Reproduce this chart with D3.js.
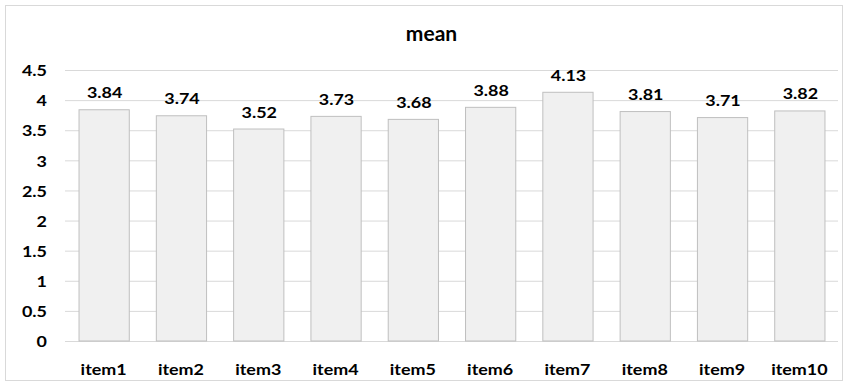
<!DOCTYPE html>
<html><head><meta charset="utf-8">
<script src="https://cdn.jsdelivr.net/npm/d3@7"></script>
<style>body{margin:0;background:#fff}svg{display:block}text{font-family:Lato,"Open Sans",sans-serif;font-weight:bold;fill:#000}</style>
</head><body><svg id="c" width="849" height="386"></svg>
<script>
const categories = ["item1","item2","item3","item4","item5","item6","item7","item8","item9","item10"];
const values = [3.84,3.74,3.52,3.73,3.68,3.88,4.13,3.81,3.71,3.82];
const yTicks = [0,0.5,1,1.5,2,2.5,3,3.5,4,4.5];
const title = "mean";

const svg = d3.select("#c");
const W = 849, H = 386;
const m = {l:65, r:11, t:70, b:45};
const SX = 1.12;
svg.append("rect").attr("x",5.5).attr("y",5.5).attr("width",W-12).attr("height",H-11)
  .attr("fill","#fff").attr("stroke","#d9d9d9");
const x = d3.scaleBand().domain(categories).range([m.l, W-m.r]).paddingInner(0.35).paddingOuter(0.175);
const y = d3.scaleLinear().domain([0,4.5]).range([H-m.b, m.t]);

const ga = svg.append("g").attr("transform",`translate(${m.l},0)`)
  .call(d3.axisLeft(y).tickValues(yTicks).tickSize(-(W-m.l-m.r)).tickFormat(d3.format("")));
ga.select(".domain").remove();
ga.selectAll(".tick line").attr("stroke","#d9d9d9");
ga.selectAll(".tick text").style("font-size","16px")
  .attr("x",-18/SX).attr("dy","0.36em").attr("transform",`scale(${SX},1)`);

svg.selectAll("rect.bar").data(values).join("rect").attr("class","bar")
  .attr("x",(d,i)=>x(categories[i])+0.5).attr("width",x.bandwidth())
  .attr("y",d=>y(d)).attr("height",d=>y(0)-y(d))
  .attr("fill","#f0f0f0").attr("stroke","#bfbfbf");

svg.selectAll("text.val").data(values).join("text").attr("class","val")
  .attr("transform",(d,i)=>`translate(${x(categories[i])+x.bandwidth()/2+1},${y(d)-11.5}) scale(${SX},1)`)
  .attr("text-anchor","middle").style("font-size","16px").text(d=>d.toFixed(2));

const gx = svg.append("g").attr("transform",`translate(0,${y(0)})`)
  .call(d3.axisBottom(x).tickSize(0));
gx.select(".domain").remove();
gx.selectAll(".tick text").style("font-size","16px")
  .attr("y",34).attr("dy",null).attr("transform",`scale(${SX},1)`);

svg.append("text").attr("x",431.5).attr("y",41).attr("text-anchor","middle")
  .style("font-size","21px").text(title);
</script></body></html>
